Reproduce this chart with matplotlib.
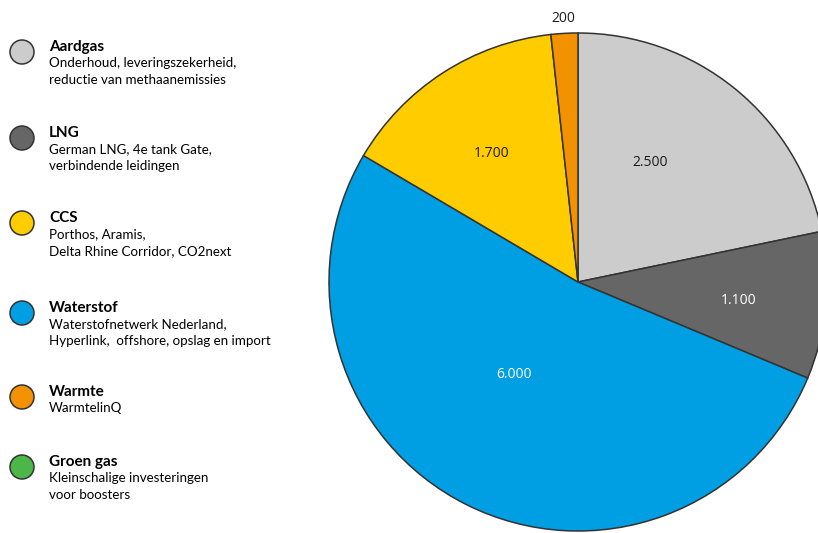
import numpy as np
import matplotlib.pyplot as plt
from matplotlib.patches import Circle

# =============================
# DATA
# =============================
categorieen = ['Aardgas', 'LNG', 'CCS', 'Waterstof', 'Warmte', 'Groen gas']
omschrijving = [
    'Onderhoud, leveringszekerheid,\nreductie van methaanemissies',
    'German LNG, 4e tank Gate,\nverbindende leidingen',
    'Porthos, Aramis,\nDelta Rhine Corridor, CO2next',
    'Waterstofnetwerk Nederland,\nHyperlink,  offshore, opslag en import',
    'WarmtelinQ',
    'Kleinschalige investeringen\nvoor boosters',
]
kleuren = ['#cccccc', '#666666', '#ffcc00', '#009fe3', '#f39200', '#4cb748']

# pie order (clockwise from top)
pie_cat = ['Aardgas', 'LNG', 'Waterstof', 'CCS', 'Warmte']
pie_val = [2500, 1100, 6000, 1700, 200]
pie_lbl = ['2.500', '1.100', '6.000', '1.700', '200']

# =============================
# LAYOUT
# =============================
W, H = 818, 533
fig = plt.figure(figsize=(W / 100, H / 100), dpi=100)
ax = fig.add_axes([0, 0, 1, 1])

font = ['Lato', 'DejaVu Sans']
font_num = ['Open Sans', 'DejaVu Sans']
kleur_map = dict(zip(categorieen, kleuren))

cx, cy, r = 578, H - 282, 249
wedges, _ = ax.pie(pie_val, colors=[kleur_map[c] for c in pie_cat],
                   startangle=90, counterclock=False, center=(cx, cy), radius=r,
                   wedgeprops=dict(edgecolor='#333333', linewidth=1.1),
                   frame=True)
ax.set_xlim(0, W)
ax.set_ylim(0, H)
ax.set_aspect('equal')
ax.axis('off')

# waarde labels
lbl_afstand = [0.56, 0.65, 0.45, 0.62, 1.06]
lbl_kleur = ['#1a1a1a', 'white', 'white', '#1a1a1a', '#1a1a1a']
lbl_hoek = [8, -1, -8, 1, 0]
for w, t, d, k, dh in zip(wedges, pie_lbl, lbl_afstand, lbl_kleur, lbl_hoek):
    mid = np.deg2rad((w.theta1 + w.theta2) / 2 + dh)
    ax.text(cx + d * r * np.cos(mid), cy + d * r * np.sin(mid), t,
            ha='center', va='center', fontsize=10, color=k, family=font_num)

# legenda
leg_y = [52, 138, 223, 313, 397, 467]
for naam, tekst, kl, y in zip(categorieen, omschrijving, kleuren, leg_y):
    yy = H - y
    ax.add_patch(Circle((22, yy), 12, facecolor=kl, edgecolor='#333333', linewidth=1.1))
    ax.text(49, yy + 5, naam, fontsize=11, fontweight='bold', family=font,
            va='center', ha='left', color='black')
    ax.text(49, yy - 5, tekst, fontsize=9.6, family=font, va='top', ha='left',
            color='black', linespacing=1.5)

fig.savefig('out.png', dpi=100)
